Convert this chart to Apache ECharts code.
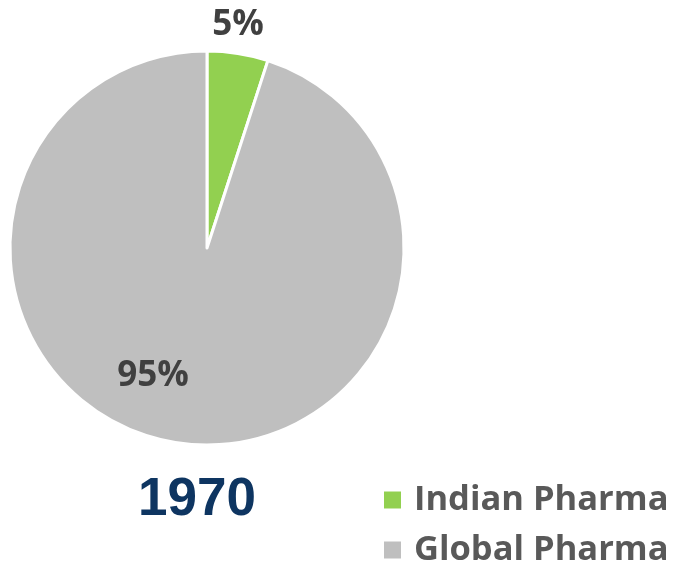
<!DOCTYPE html>
<html><head><meta charset="utf-8">
<script src="https://cdn.jsdelivr.net/npm/echarts@6/dist/echarts.min.js"></script>
<style>html,body{margin:0;padding:0;background:#fff}#c{width:677px;height:569px}</style>
</head><body><div id="c"></div>
<script>
const categories = ['Indian Pharma', 'Global Pharma'];
const values = [5, 95];
const title = '1970';
const colors = ['#92D050', '#BFBFBF'];
const labelPos = [[238, 25], [153, 376]];
const legendTops = [481, 531];

const chart = echarts.init(document.getElementById('c'));
chart.setOption({
  animation: false,
  title: {
    text: title, left: 192, top: 495, textAlign: 'center', textVerticalAlign: 'middle',
    textStyle: { fontFamily: 'Liberation Sans', fontWeight: 'bold', fontSize: 53, color: '#0E3561' }
  },
  legend: categories.map((c, i) => ({
    orient: 'vertical', left: 382, top: legendTops[i], itemWidth: 19, itemHeight: 19,
    icon: 'rect', padding: 0,
    textStyle: { fontFamily: 'Open Sans', fontWeight: 'bold', fontSize: 34.5, lineHeight: 38, color: '#595959', padding: [0, 0, 0, 7] },
    data: [c]
  })),
  series: [{
    type: 'pie', center: [207, 248], radius: 197, startAngle: 90, clockwise: true,
    itemStyle: { borderColor: '#fff', borderWidth: 3 },
    label: {
      show: true, position: 'inside', formatter: '{d}%',
      fontFamily: 'Open Sans', fontWeight: 'bold', fontSize: 35, color: '#404040'
    },
    labelLine: { show: false },
    labelLayout: function (p) {
      const pos = labelPos[p.dataIndex];
      return { x: pos[0], y: pos[1], align: 'center', verticalAlign: 'middle' };
    },
    data: categories.map((n, i) => ({ name: n, value: values[i], itemStyle: { color: colors[i] } }))
  }]
});
</script></body></html>
